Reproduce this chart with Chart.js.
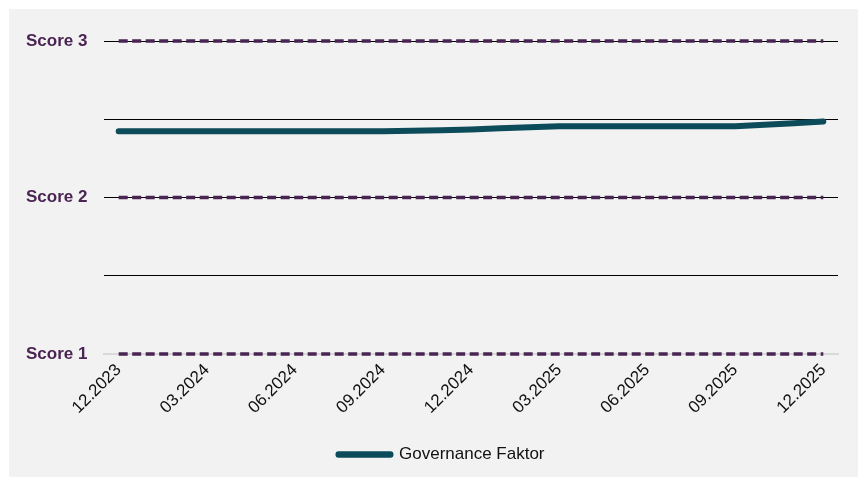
<!DOCTYPE html>
<html lang="de">
<head>
    <meta charset="UTF-8">
    <title>Governance Faktor</title>
    <style>
        body {
            margin: 0;
            background: #ffffff;
            font-family: "Liberation Sans", Arial, sans-serif;
        }
        .chart-container {
            position: absolute;
            left: 9px;
            top: 9px;
            width: 849px;
            height: 468px;
            background: #f2f2f2;
        }
    </style>
    <script src="https://cdn.jsdelivr.net/npm/chart.js"></script>
</head>
<body>
    <div class="chart-container">
        <canvas id="scoreChart"></canvas>
    </div>

    <script>
        // monthly points, every third month gets a label
        const months = [
            '12.2023', '01.2024', '02.2024', '03.2024', '04.2024', '05.2024', '06.2024',
            '07.2024', '08.2024', '09.2024', '10.2024', '11.2024', '12.2024',
            '01.2025', '02.2025', '03.2025', '04.2025', '05.2025', '06.2025',
            '07.2025', '08.2025', '09.2025', '10.2025', '11.2025', '12.2025'
        ];
        const governance = [
            2.423, 2.423, 2.423, 2.423, 2.423, 2.423, 2.423,
            2.423, 2.423, 2.423, 2.426, 2.430, 2.435,
            2.442, 2.449, 2.455, 2.455, 2.455, 2.455,
            2.455, 2.455, 2.455, 2.465, 2.475, 2.486
        ];
        const scoreLevels = [1, 2, 3];
        const scoreLabels = { 1: 'Score 1', 2: 'Score 2', 3: 'Score 3' };

        const teal = '#0c4b59';
        const purple = '#4a2452';
        const fontFamily = '"Liberation Sans", Arial, sans-serif';

        const datasets = [{
            label: 'Governance Faktor',
            data: governance,
            borderColor: teal,
            backgroundColor: teal,
            borderWidth: 6,
            borderCapStyle: 'round',
            borderJoinStyle: 'round',
            pointRadius: 0,
            tension: 0,
            order: 0
        }];
        scoreLevels.forEach(level => {
            datasets.push({
                label: scoreLabels[level],
                data: months.map(() => level),
                borderColor: purple,
                backgroundColor: purple,
                borderWidth: 3.5,
                borderDash: [9, 4.5],
                pointRadius: 0,
                clip: false,
                order: 1
            });
        });

        const ctx = document.getElementById('scoreChart').getContext('2d');
        new Chart(ctx, {
            type: 'line',
            data: { labels: months, datasets: datasets },
            options: {
                responsive: true,
                maintainAspectRatio: false,
                animation: false,
                layout: {
                    padding: { top: 32, right: 20, left: 36, bottom: 4 }
                },
                plugins: {
                    tooltip: { enabled: false },
                    legend: {
                        position: 'bottom',
                        labels: {
                            filter: item => item.text === 'Governance Faktor',
                            boxWidth: 52,
                            boxHeight: 0.5,
                            color: '#111',
                            padding: 14,
                            font: { size: 17, family: fontFamily }
                        }
                    }
                },
                scales: {
                    x: {
                        offset: true,
                        grid: { display: false, drawTicks: false },
                        border: { color: '#d9d9d9', width: 2 },
                        afterFit: axis => { axis.height = 78; },
                        ticks: {
                            autoSkip: false,
                            maxRotation: 45,
                            minRotation: 45,
                            padding: 6,
                            color: '#111',
                            font: { size: 17, family: fontFamily },
                            callback: (value, index) => index % 3 === 0 ? months[index] : ''
                        }
                    },
                    y: {
                        min: 1,
                        max: 3,
                        afterFit: axis => { axis.width = 59; },
                        border: { display: false },
                        grid: {
                            drawTicks: false,
                            color: c => c.tick.value === 1 ? '#d9d9d9' : '#000000',
                            lineWidth: c => c.tick.value === 1 ? 2 : 1
                        },
                        ticks: {
                            stepSize: 0.5,
                            mirror: true,
                            padding: -78,
                            color: purple,
                            font: { size: 17, weight: 'bold', family: fontFamily },
                            callback: value => scoreLabels[value] || ''
                        }
                    }
                }
            }
        });
    </script>
</body>
</html>
